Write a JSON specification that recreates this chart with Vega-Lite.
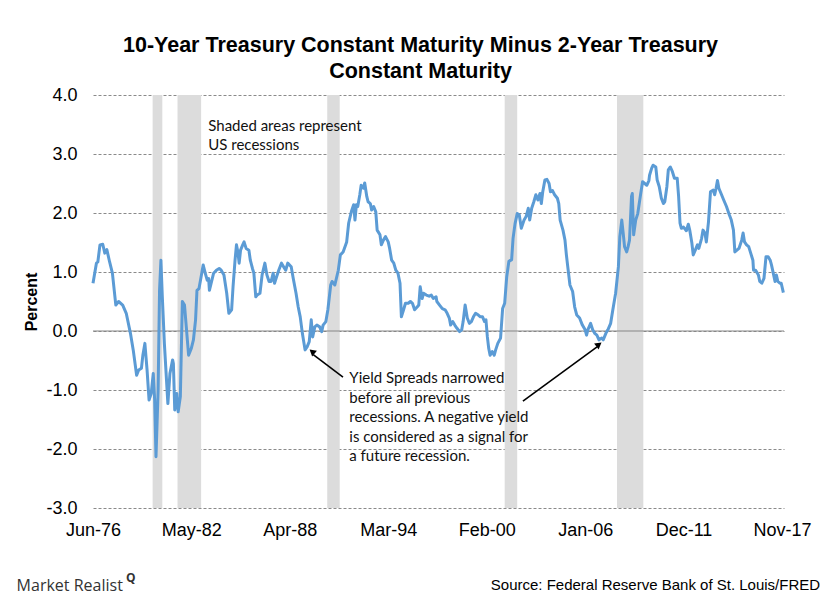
{
  "$schema": "https://vega.github.io/schema/vega-lite/v6.json",
  "width": 691,
  "height": 413,
  "autosize": "none",
  "padding": {"left": 93, "top": 95, "right": 56, "bottom": 92},
  "background": "white",
  "config": {"view": {"stroke": null}},
  "title": {
    "text": ["10-Year Treasury Constant Maturity Minus 2-Year Treasury", "Constant Maturity"],
    "font": "Liberation Sans",
    "fontSize": 21.5,
    "fontWeight": "bold",
    "lineHeight": 26,
    "color": "#000000",
    "anchor": "middle",
    "frame": "group",
    "dx": -18,
    "offset": 4
  },
  "datasets": {
    "spread": [
      {"date": "1976-06-01", "spread": 0.81},
      {"date": "1976-08-15", "spread": 1.15},
      {"date": "1976-09-15", "spread": 1.17},
      {"date": "1976-11-01", "spread": 1.46},
      {"date": "1977-01-01", "spread": 1.47},
      {"date": "1977-02-15", "spread": 1.32},
      {"date": "1977-04-01", "spread": 1.38},
      {"date": "1977-06-01", "spread": 1.17},
      {"date": "1977-08-01", "spread": 0.98},
      {"date": "1977-10-15", "spread": 0.44},
      {"date": "1977-12-15", "spread": 0.50},
      {"date": "1978-03-15", "spread": 0.44},
      {"date": "1978-06-01", "spread": 0.30},
      {"date": "1978-09-01", "spread": -0.04},
      {"date": "1978-11-01", "spread": -0.32},
      {"date": "1979-01-15", "spread": -0.75},
      {"date": "1979-03-01", "spread": -0.66},
      {"date": "1979-05-01", "spread": -0.63},
      {"date": "1979-06-01", "spread": -0.41},
      {"date": "1979-07-15", "spread": -0.21},
      {"date": "1979-09-01", "spread": -0.66},
      {"date": "1979-10-15", "spread": -1.17},
      {"date": "1979-12-01", "spread": -1.06},
      {"date": "1980-01-15", "spread": -0.72},
      {"date": "1980-02-15", "spread": -1.17},
      {"date": "1980-03-15", "spread": -2.13},
      {"date": "1980-05-01", "spread": -1.00},
      {"date": "1980-06-01", "spread": 0.69},
      {"date": "1980-07-01", "spread": 1.20},
      {"date": "1980-08-01", "spread": 0.58},
      {"date": "1980-09-15", "spread": -0.21},
      {"date": "1980-12-01", "spread": -1.23},
      {"date": "1981-01-15", "spread": -0.72},
      {"date": "1981-03-15", "spread": -0.49},
      {"date": "1981-04-01", "spread": -0.55},
      {"date": "1981-05-01", "spread": -1.34},
      {"date": "1981-06-15", "spread": -1.06},
      {"date": "1981-07-15", "spread": -1.37},
      {"date": "1981-09-01", "spread": -1.11},
      {"date": "1981-10-15", "spread": 0.50},
      {"date": "1981-12-01", "spread": 0.44},
      {"date": "1982-03-01", "spread": -0.41},
      {"date": "1982-05-01", "spread": -0.29},
      {"date": "1982-06-15", "spread": -0.15},
      {"date": "1982-08-01", "spread": 0.19},
      {"date": "1982-09-01", "spread": 0.69},
      {"date": "1982-10-15", "spread": 0.72},
      {"date": "1982-12-01", "spread": 0.92},
      {"date": "1983-01-15", "spread": 1.12},
      {"date": "1983-03-01", "spread": 0.98},
      {"date": "1983-04-15", "spread": 0.86},
      {"date": "1983-05-15", "spread": 0.89},
      {"date": "1983-06-01", "spread": 0.69},
      {"date": "1983-09-01", "spread": 0.98},
      {"date": "1983-11-01", "spread": 1.03},
      {"date": "1984-01-01", "spread": 1.06},
      {"date": "1984-02-15", "spread": 1.03},
      {"date": "1984-04-15", "spread": 0.95},
      {"date": "1984-06-15", "spread": 0.64},
      {"date": "1984-08-01", "spread": 0.30},
      {"date": "1984-10-01", "spread": 0.36},
      {"date": "1984-11-01", "spread": 0.75},
      {"date": "1984-12-15", "spread": 1.20},
      {"date": "1985-01-15", "spread": 1.46},
      {"date": "1985-02-15", "spread": 1.34},
      {"date": "1985-03-15", "spread": 1.15},
      {"date": "1985-04-15", "spread": 1.37},
      {"date": "1985-06-01", "spread": 1.46},
      {"date": "1985-07-01", "spread": 1.51},
      {"date": "1985-08-15", "spread": 1.40},
      {"date": "1985-10-15", "spread": 1.37},
      {"date": "1985-11-15", "spread": 1.20},
      {"date": "1986-01-01", "spread": 1.06},
      {"date": "1986-02-01", "spread": 0.98},
      {"date": "1986-03-15", "spread": 0.58},
      {"date": "1986-04-15", "spread": 0.61},
      {"date": "1986-06-15", "spread": 0.64},
      {"date": "1986-08-01", "spread": 0.95},
      {"date": "1986-10-01", "spread": 1.15},
      {"date": "1986-11-15", "spread": 0.95},
      {"date": "1987-01-01", "spread": 0.84},
      {"date": "1987-02-15", "spread": 0.84},
      {"date": "1987-04-01", "spread": 0.98},
      {"date": "1987-05-01", "spread": 0.81},
      {"date": "1987-06-15", "spread": 0.92},
      {"date": "1987-08-01", "spread": 1.03},
      {"date": "1987-10-01", "spread": 1.15},
      {"date": "1987-11-15", "spread": 1.09},
      {"date": "1988-01-01", "spread": 1.03},
      {"date": "1988-02-15", "spread": 1.15},
      {"date": "1988-05-01", "spread": 1.09},
      {"date": "1988-06-15", "spread": 0.89},
      {"date": "1988-08-15", "spread": 0.64},
      {"date": "1988-10-01", "spread": 0.41},
      {"date": "1988-11-15", "spread": 0.24},
      {"date": "1989-01-01", "spread": -0.04},
      {"date": "1989-03-01", "spread": -0.32},
      {"date": "1989-04-15", "spread": -0.27},
      {"date": "1989-06-01", "spread": -0.18},
      {"date": "1989-07-15", "spread": 0.19},
      {"date": "1989-08-15", "spread": -0.10},
      {"date": "1989-10-01", "spread": 0.07},
      {"date": "1989-11-15", "spread": 0.10},
      {"date": "1990-01-15", "spread": 0.07},
      {"date": "1990-03-01", "spread": -0.01},
      {"date": "1990-04-01", "spread": 0.10},
      {"date": "1990-06-01", "spread": 0.16},
      {"date": "1990-07-15", "spread": 0.36},
      {"date": "1990-09-15", "spread": 0.78},
      {"date": "1990-10-15", "spread": 0.84},
      {"date": "1990-12-15", "spread": 0.78},
      {"date": "1991-03-01", "spread": 1.03},
      {"date": "1991-04-15", "spread": 1.29},
      {"date": "1991-06-15", "spread": 1.34},
      {"date": "1991-09-01", "spread": 1.51},
      {"date": "1991-10-15", "spread": 1.83},
      {"date": "1991-12-15", "spread": 2.03},
      {"date": "1992-02-01", "spread": 2.14},
      {"date": "1992-03-01", "spread": 1.88},
      {"date": "1992-04-01", "spread": 2.14},
      {"date": "1992-05-01", "spread": 2.11},
      {"date": "1992-06-15", "spread": 2.31},
      {"date": "1992-07-15", "spread": 2.47},
      {"date": "1992-09-01", "spread": 2.42},
      {"date": "1992-10-01", "spread": 2.51},
      {"date": "1992-11-15", "spread": 2.28},
      {"date": "1992-12-15", "spread": 2.19},
      {"date": "1993-02-01", "spread": 2.16},
      {"date": "1993-03-01", "spread": 2.05},
      {"date": "1993-04-15", "spread": 2.11},
      {"date": "1993-06-01", "spread": 2.02},
      {"date": "1993-07-01", "spread": 1.71},
      {"date": "1993-09-01", "spread": 1.63},
      {"date": "1993-10-01", "spread": 1.46},
      {"date": "1993-11-15", "spread": 1.54},
      {"date": "1994-01-01", "spread": 1.60},
      {"date": "1994-03-01", "spread": 1.51},
      {"date": "1994-04-01", "spread": 1.40},
      {"date": "1994-05-15", "spread": 1.20},
      {"date": "1994-07-01", "spread": 1.15},
      {"date": "1994-08-15", "spread": 1.03},
      {"date": "1994-10-01", "spread": 0.98},
      {"date": "1994-11-15", "spread": 0.81},
      {"date": "1994-12-15", "spread": 0.24},
      {"date": "1995-02-01", "spread": 0.36},
      {"date": "1995-03-15", "spread": 0.47},
      {"date": "1995-05-15", "spread": 0.47},
      {"date": "1995-07-01", "spread": 0.50},
      {"date": "1995-08-15", "spread": 0.47},
      {"date": "1995-10-01", "spread": 0.36},
      {"date": "1995-12-01", "spread": 0.41},
      {"date": "1996-01-01", "spread": 0.44},
      {"date": "1996-02-01", "spread": 0.75},
      {"date": "1996-03-15", "spread": 0.55},
      {"date": "1996-04-15", "spread": 0.64},
      {"date": "1996-06-15", "spread": 0.61},
      {"date": "1996-08-15", "spread": 0.59},
      {"date": "1996-10-01", "spread": 0.61},
      {"date": "1996-11-15", "spread": 0.55},
      {"date": "1997-01-15", "spread": 0.58},
      {"date": "1997-02-01", "spread": 0.50},
      {"date": "1997-04-01", "spread": 0.44},
      {"date": "1997-06-01", "spread": 0.38},
      {"date": "1997-08-01", "spread": 0.36},
      {"date": "1997-09-15", "spread": 0.30},
      {"date": "1997-11-01", "spread": 0.22},
      {"date": "1997-12-01", "spread": 0.10},
      {"date": "1998-01-15", "spread": 0.16},
      {"date": "1998-03-01", "spread": 0.10},
      {"date": "1998-04-15", "spread": 0.05},
      {"date": "1998-06-15", "spread": -0.01},
      {"date": "1998-08-01", "spread": 0.02},
      {"date": "1998-09-01", "spread": 0.16},
      {"date": "1998-10-15", "spread": 0.44},
      {"date": "1998-12-01", "spread": 0.22},
      {"date": "1999-01-15", "spread": 0.13},
      {"date": "1999-03-01", "spread": 0.16},
      {"date": "1999-04-15", "spread": 0.24},
      {"date": "1999-06-01", "spread": 0.30},
      {"date": "1999-08-01", "spread": 0.27},
      {"date": "1999-09-15", "spread": 0.24},
      {"date": "1999-11-01", "spread": 0.24},
      {"date": "1999-12-15", "spread": 0.16},
      {"date": "2000-01-15", "spread": 0.19},
      {"date": "2000-02-15", "spread": -0.10},
      {"date": "2000-03-15", "spread": -0.29},
      {"date": "2000-04-15", "spread": -0.41},
      {"date": "2000-06-01", "spread": -0.35},
      {"date": "2000-07-15", "spread": -0.41},
      {"date": "2000-08-15", "spread": -0.32},
      {"date": "2000-10-01", "spread": -0.21},
      {"date": "2000-12-01", "spread": -0.12},
      {"date": "2001-01-15", "spread": 0.38},
      {"date": "2001-03-01", "spread": 0.47},
      {"date": "2001-04-15", "spread": 0.92},
      {"date": "2001-06-01", "spread": 1.18},
      {"date": "2001-08-01", "spread": 1.21},
      {"date": "2001-09-01", "spread": 1.57},
      {"date": "2001-10-15", "spread": 1.82},
      {"date": "2001-12-01", "spread": 1.99},
      {"date": "2002-01-15", "spread": 1.97},
      {"date": "2002-03-01", "spread": 1.74},
      {"date": "2002-05-01", "spread": 1.88},
      {"date": "2002-06-15", "spread": 1.94},
      {"date": "2002-08-01", "spread": 2.08},
      {"date": "2002-09-01", "spread": 1.88},
      {"date": "2002-10-15", "spread": 2.08},
      {"date": "2002-12-01", "spread": 2.19},
      {"date": "2003-01-15", "spread": 2.31},
      {"date": "2003-03-01", "spread": 2.22},
      {"date": "2003-04-15", "spread": 2.33},
      {"date": "2003-05-15", "spread": 2.16},
      {"date": "2003-06-15", "spread": 2.36},
      {"date": "2003-08-01", "spread": 2.56},
      {"date": "2003-09-15", "spread": 2.57},
      {"date": "2003-11-01", "spread": 2.50},
      {"date": "2003-12-01", "spread": 2.36},
      {"date": "2004-01-15", "spread": 2.38},
      {"date": "2004-03-01", "spread": 2.31},
      {"date": "2004-05-01", "spread": 2.25},
      {"date": "2004-06-01", "spread": 2.16},
      {"date": "2004-07-01", "spread": 1.88},
      {"date": "2004-09-01", "spread": 1.71},
      {"date": "2004-10-15", "spread": 1.54},
      {"date": "2004-11-15", "spread": 1.29},
      {"date": "2004-12-15", "spread": 1.09},
      {"date": "2005-02-01", "spread": 0.78},
      {"date": "2005-04-01", "spread": 0.67},
      {"date": "2005-05-15", "spread": 0.41},
      {"date": "2005-07-01", "spread": 0.27},
      {"date": "2005-09-01", "spread": 0.22},
      {"date": "2005-11-01", "spread": 0.10},
      {"date": "2006-01-01", "spread": 0.02},
      {"date": "2006-02-01", "spread": -0.07},
      {"date": "2006-03-01", "spread": 0.02},
      {"date": "2006-05-01", "spread": 0.13},
      {"date": "2006-06-15", "spread": 0.02},
      {"date": "2006-08-01", "spread": -0.04},
      {"date": "2006-09-15", "spread": -0.07},
      {"date": "2006-11-01", "spread": -0.15},
      {"date": "2007-01-01", "spread": -0.12},
      {"date": "2007-02-01", "spread": -0.15},
      {"date": "2007-04-01", "spread": -0.04},
      {"date": "2007-05-15", "spread": 0.02},
      {"date": "2007-07-15", "spread": 0.13},
      {"date": "2007-09-01", "spread": 0.36},
      {"date": "2007-11-01", "spread": 0.64},
      {"date": "2008-01-01", "spread": 1.09},
      {"date": "2008-02-01", "spread": 1.60},
      {"date": "2008-03-15", "spread": 1.88},
      {"date": "2008-04-15", "spread": 1.66},
      {"date": "2008-05-15", "spread": 1.43},
      {"date": "2008-07-01", "spread": 1.34},
      {"date": "2008-08-01", "spread": 1.43},
      {"date": "2008-09-01", "spread": 1.54},
      {"date": "2008-10-15", "spread": 2.28},
      {"date": "2008-11-01", "spread": 2.33},
      {"date": "2008-12-01", "spread": 1.63},
      {"date": "2009-01-15", "spread": 1.88},
      {"date": "2009-03-01", "spread": 1.99},
      {"date": "2009-05-01", "spread": 2.31},
      {"date": "2009-06-15", "spread": 2.53},
      {"date": "2009-08-01", "spread": 2.50},
      {"date": "2009-09-15", "spread": 2.47},
      {"date": "2009-11-01", "spread": 2.55},
      {"date": "2009-11-15", "spread": 2.64},
      {"date": "2010-01-01", "spread": 2.76},
      {"date": "2010-02-01", "spread": 2.81},
      {"date": "2010-04-01", "spread": 2.78},
      {"date": "2010-05-01", "spread": 2.56},
      {"date": "2010-06-15", "spread": 2.45},
      {"date": "2010-08-01", "spread": 2.25},
      {"date": "2010-09-15", "spread": 2.16},
      {"date": "2010-10-15", "spread": 2.19},
      {"date": "2010-12-01", "spread": 2.45},
      {"date": "2011-01-01", "spread": 2.73},
      {"date": "2011-02-15", "spread": 2.78},
      {"date": "2011-04-01", "spread": 2.70},
      {"date": "2011-05-15", "spread": 2.59},
      {"date": "2011-07-15", "spread": 2.59},
      {"date": "2011-08-15", "spread": 2.28},
      {"date": "2011-09-15", "spread": 1.83},
      {"date": "2011-10-15", "spread": 1.74},
      {"date": "2011-12-01", "spread": 1.76},
      {"date": "2012-02-01", "spread": 1.70},
      {"date": "2012-03-15", "spread": 1.81},
      {"date": "2012-04-15", "spread": 1.71},
      {"date": "2012-06-01", "spread": 1.49},
      {"date": "2012-07-01", "spread": 1.29},
      {"date": "2012-08-15", "spread": 1.37},
      {"date": "2012-10-01", "spread": 1.46},
      {"date": "2012-11-01", "spread": 1.40},
      {"date": "2013-01-01", "spread": 1.57},
      {"date": "2013-02-01", "spread": 1.71},
      {"date": "2013-03-15", "spread": 1.66},
      {"date": "2013-04-15", "spread": 1.51},
      {"date": "2013-06-01", "spread": 1.85},
      {"date": "2013-07-15", "spread": 2.36},
      {"date": "2013-09-15", "spread": 2.39},
      {"date": "2013-10-15", "spread": 2.31},
      {"date": "2013-11-15", "spread": 2.42},
      {"date": "2013-12-15", "spread": 2.55},
      {"date": "2014-01-15", "spread": 2.42},
      {"date": "2014-03-15", "spread": 2.31},
      {"date": "2014-05-01", "spread": 2.22},
      {"date": "2014-07-01", "spread": 2.11},
      {"date": "2014-09-01", "spread": 1.97},
      {"date": "2014-10-15", "spread": 1.88},
      {"date": "2014-12-01", "spread": 1.71},
      {"date": "2015-01-01", "spread": 1.34},
      {"date": "2015-02-15", "spread": 1.37},
      {"date": "2015-04-01", "spread": 1.40},
      {"date": "2015-06-01", "spread": 1.54},
      {"date": "2015-07-01", "spread": 1.66},
      {"date": "2015-08-01", "spread": 1.51},
      {"date": "2015-09-15", "spread": 1.46},
      {"date": "2015-11-01", "spread": 1.43},
      {"date": "2015-12-15", "spread": 1.32},
      {"date": "2016-02-01", "spread": 1.20},
      {"date": "2016-02-15", "spread": 1.03},
      {"date": "2016-04-01", "spread": 1.03},
      {"date": "2016-06-01", "spread": 0.95},
      {"date": "2016-07-01", "spread": 0.84},
      {"date": "2016-08-15", "spread": 0.81},
      {"date": "2016-10-01", "spread": 0.89},
      {"date": "2016-11-15", "spread": 1.26},
      {"date": "2017-01-01", "spread": 1.26},
      {"date": "2017-02-15", "spread": 1.20},
      {"date": "2017-03-15", "spread": 1.12},
      {"date": "2017-04-15", "spread": 1.01},
      {"date": "2017-06-01", "spread": 0.84},
      {"date": "2017-07-01", "spread": 0.95},
      {"date": "2017-08-01", "spread": 0.84},
      {"date": "2017-09-15", "spread": 0.81},
      {"date": "2017-10-15", "spread": 0.81},
      {"date": "2017-12-01", "spread": 0.65}
    ],
    "recessions": [
      {"start": "1980-01-01", "end": "1980-08-01"},
      {"start": "1981-07-01", "end": "1982-12-01"},
      {"start": "1990-07-01", "end": "1991-04-01"},
      {"start": "2001-03-01", "end": "2001-12-01"},
      {"start": "2007-12-01", "end": "2009-07-01"}
    ],
    "one": [{}]
  },
  "encoding": {
    "x": {
      "type": "temporal",
      "scale": {"domain": [{"year": 1976, "month": 6, "date": 1}, {"year": 2017, "month": 12, "date": 15}]},
      "axis": {
        "title": null,
        "values": [
          {"year": 1976, "month": 6, "date": 1},
          {"year": 1982, "month": 5, "date": 1},
          {"year": 1988, "month": 4, "date": 1},
          {"year": 1994, "month": 3, "date": 1},
          {"year": 2000, "month": 2, "date": 1},
          {"year": 2006, "month": 1, "date": 1},
          {"year": 2011, "month": 12, "date": 1},
          {"year": 2017, "month": 11, "date": 1}
        ],
        "format": "%b-%y",
        "grid": false,
        "domain": false,
        "ticks": false,
        "labelFont": "Liberation Sans",
        "labelFontSize": 18,
        "labelColor": "#000000",
        "labelPadding": 13,
        "labelOverlap": false,
        "labelBound": false,
        "labelFlush": false
      }
    },
    "y": {
      "type": "quantitative",
      "scale": {"domain": [-3, 4], "nice": false, "zero": false},
      "axis": {
        "title": "Percent",
        "titleFont": "Liberation Sans",
        "titleFontSize": 16,
        "titleFontWeight": "bold",
        "titleColor": "#000000",
        "titlePadding": 6,
        "values": [-3, -2, -1, 0, 1, 2, 3, 4],
        "labelExpr": "replace(format(datum.value, '.1f'), '\u2212', '-')",
        "labelFont": "Liberation Sans",
        "labelFontSize": 18,
        "labelColor": "#000000",
        "labelPadding": 16,
        "grid": true,
        "gridColor": "#8a8a8a",
        "gridDash": [3, 2],
        "gridWidth": 1,
        "domain": false,
        "ticks": false
      }
    }
  },
  "layer": [
    {
      "data": {"name": "recessions"},
      "mark": {"type": "rect", "color": "#dcdcdc"},
      "encoding": {
        "x": {"field": "start", "type": "temporal"},
        "x2": {"field": "end"}
      }
    },
    {
      "data": {"name": "one"},
      "mark": {"type": "rule", "color": "#868686", "strokeWidth": 1},
      "encoding": {"y": {"datum": 0}}
    },
    {
      "data": {"name": "spread"},
      "mark": {"type": "line", "color": "#5b9bd5", "strokeWidth": 3, "strokeJoin": "round"},
      "encoding": {
        "x": {"field": "date", "type": "temporal"},
        "y": {"field": "spread", "type": "quantitative"}
      }
    },
    {
      "data": {"name": "one"},
      "mark": {"type": "rule", "color": "#000000", "strokeWidth": 1.6},
      "encoding": {
        "x": {"datum": {"year": 1991, "month": 6, "date": 12}},
        "y": {"datum": -0.78},
        "x2": {"datum": {"year": 1989, "month": 8, "date": 28}},
        "y2": {"datum": -0.40}
      }
    },
    {
      "data": {"name": "one"},
      "mark": {"type": "point", "shape": "triangle", "filled": true, "color": "#000000", "size": 55, "angle": 310, "opacity": 1},
      "encoding": {
        "x": {"datum": {"year": 1989, "month": 8, "date": 20}},
        "y": {"datum": -0.36}
      }
    },
    {
      "data": {"name": "one"},
      "mark": {"type": "rule", "color": "#000000", "strokeWidth": 1.6},
      "encoding": {
        "x": {"datum": {"year": 2002, "month": 4, "date": 6}},
        "y": {"datum": -1.19},
        "x2": {"datum": {"year": 2006, "month": 9, "date": 20}},
        "y2": {"datum": -0.27}
      }
    },
    {
      "data": {"name": "one"},
      "mark": {"type": "point", "shape": "triangle", "filled": true, "color": "#000000", "size": 55, "angle": 53, "opacity": 1},
      "encoding": {
        "x": {"datum": {"year": 2006, "month": 10, "date": 12}},
        "y": {"datum": -0.24}
      }
    },
    {
      "data": {"name": "one"},
      "mark": {"type": "text", "align": "left", "baseline": "alphabetic", "font": "Lato", "fontSize": 15, "lineHeight": 19, "color": "#111111"},
      "encoding": {
        "x": {"datum": {"year": 1983, "month": 5, "date": 7}},
        "y": {"datum": 3.395},
        "text": {"value": ["Shaded areas represent", "US recessions"]}
      }
    },
    {
      "data": {"name": "one"},
      "mark": {"type": "text", "align": "left", "baseline": "alphabetic", "font": "Lato", "fontSize": 15, "lineHeight": 19.5, "color": "#111111"},
      "encoding": {
        "x": {"datum": {"year": 1991, "month": 10, "date": 28}},
        "y": {"datum": -0.886},
        "text": {"value": ["Yield Spreads narrowed", "before all previous", "recessions. A negative yield", "is considered as a signal for", "a future recession."]}
      }
    },
    {
      "data": {"name": "one"},
      "mark": {"type": "text", "align": "left", "baseline": "alphabetic", "font": "Open Sans", "fontSize": 16, "color": "#333333"},
      "encoding": {
        "x": {"datum": {"year": 1971, "month": 10, "date": 29}},
        "y": {"datum": -4.40},
        "text": {"value": "Market Realist"}
      }
    },
    {
      "data": {"name": "one"},
      "mark": {"type": "text", "align": "left", "baseline": "alphabetic", "font": "Open Sans", "fontSize": 12, "fontWeight": "bold", "color": "#333333"},
      "encoding": {
        "x": {"datum": {"year": 1978, "month": 5, "date": 24}},
        "y": {"datum": -4.25},
        "text": {"value": "Q"}
      }
    },
    {
      "data": {"name": "one"},
      "mark": {"type": "text", "align": "right", "baseline": "alphabetic", "font": "Liberation Sans", "fontSize": 15, "color": "#000000"},
      "encoding": {
        "x": {"datum": {"year": 2020, "month": 2, "date": 16}},
        "y": {"datum": -4.39},
        "text": {"value": "Source: Federal Reserve Bank of St. Louis/FRED"}
      }
    }
  ]
}
